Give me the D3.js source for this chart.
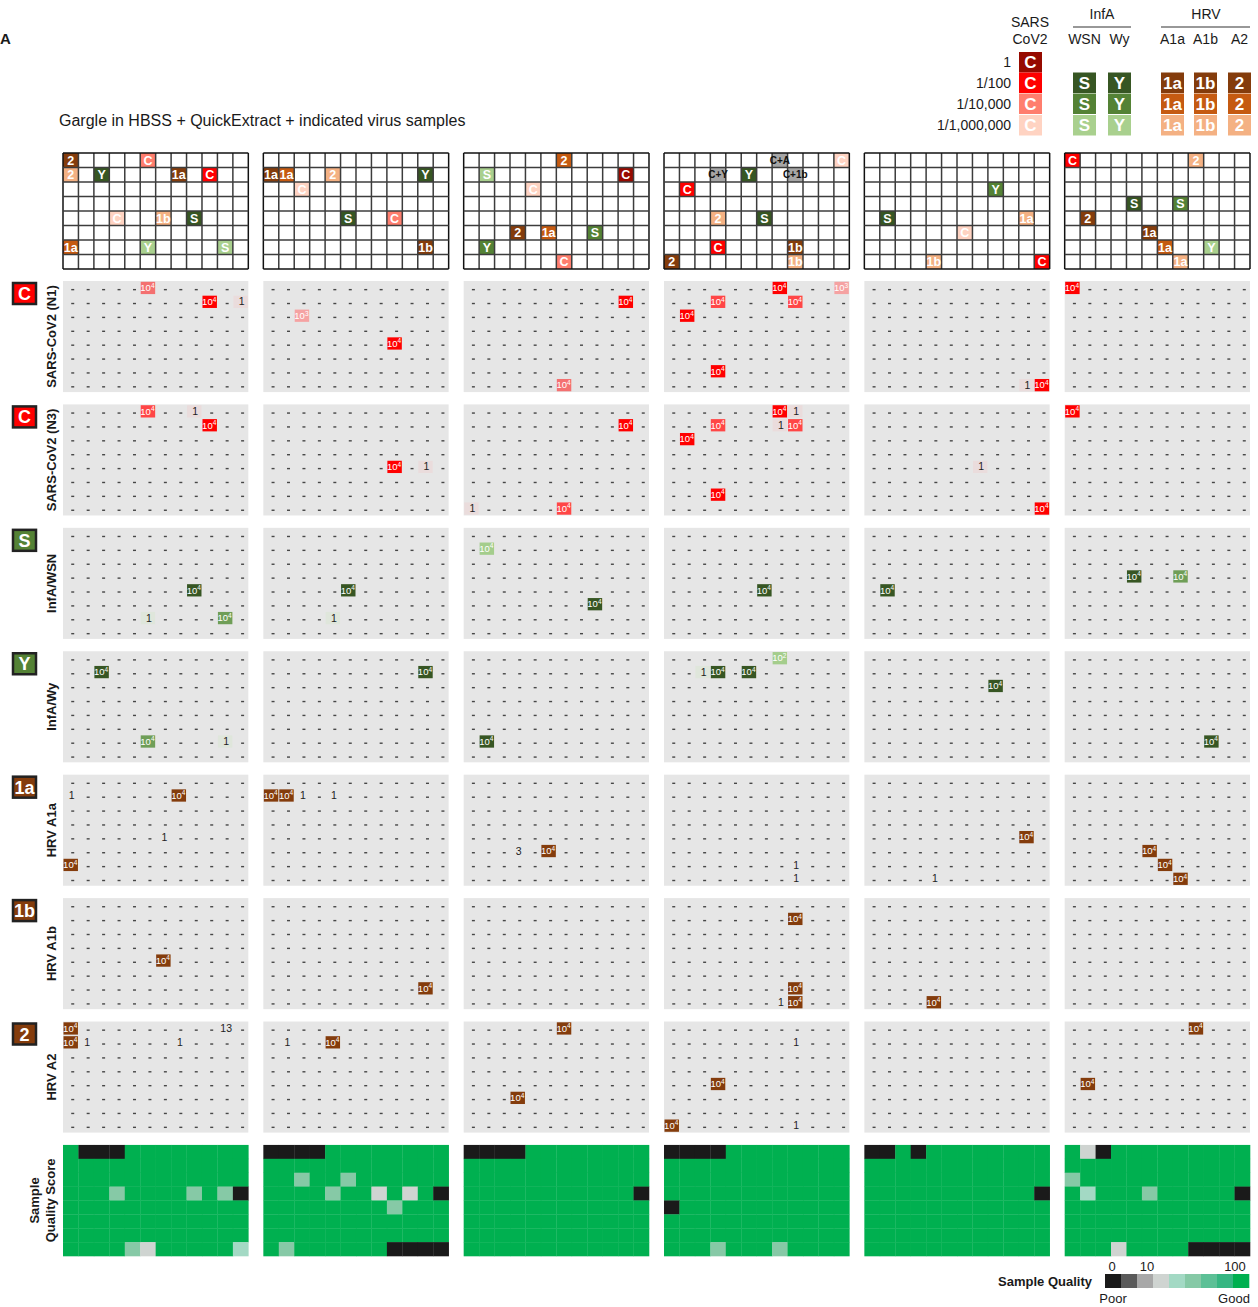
<!DOCTYPE html>
<html><head><meta charset="utf-8">
<script src="https://cdn.jsdelivr.net/npm/d3@7"></script>
<style>body{margin:0;background:#fff;} svg{display:block;font-family:"Liberation Sans",Arial,sans-serif;}</style>
</head><body><svg id="c" width="1258" height="1307"></svg>
<script>
// ---------------- DATA ----------------
const plateIds = [1, 2, 3, 4, 5, 6];
const wellRows = ["A", "B", "C", "D", "E", "F", "G", "H"];
const wellCols = [1, 2, 3, 4, 5, 6, 7, 8, 9, 10, 11, 12];
const dilutionLabels = ["1", "1/100", "1/10,000", "1/1,000,000"];
const titleText = "Gargle in HBSS + QuickExtract + indicated virus samples";

// legend columns
const legendVirus = ["C", "S", "Y", "1a", "1b", "2"];
const legendSub = ["", "WSN", "Wy", "A1a", "A1b", "A2"];
const legendDilutions = [[0, 1, 2, 3], [1, 2, 3], [1, 2, 3], [1, 2, 3], [1, 2, 3], [1, 2, 3]];
const virusFamily = { "C": "sars", "S": "infa", "Y": "infa", "1a": "hrv", "1b": "hrv", "2": "hrv" };

// plate layout: [plate, row, col, label, dilution index] (-1 = mixture)
const layoutWells = [
  [1,0,0,"2",1],[1,0,5,"C",2],[1,1,0,"2",3],[1,1,2,"Y",1],[1,1,7,"1a",1],[1,1,9,"C",1],[1,4,3,"C",3],[1,4,6,"1b",3],[1,4,8,"S",1],[1,6,0,"1a",2],[1,6,5,"Y",3],[1,6,10,"S",3],
  [2,1,0,"1a",1],[2,1,1,"1a",2],[2,1,4,"2",3],[2,1,10,"Y",1],[2,2,2,"C",3],[2,4,5,"S",1],[2,4,8,"C",2],[2,6,10,"1b",1],
  [3,0,6,"2",2],[3,1,1,"S",3],[3,1,10,"C",0],[3,2,4,"C",3],[3,5,3,"2",1],[3,5,5,"1a",2],[3,5,8,"S",2],[3,6,1,"Y",2],[3,7,6,"C",2],
  [4,0,7,"C+A",-1],[4,0,11,"C",3],[4,1,3,"C+Y",-1],[4,1,5,"Y",1],[4,1,8,"C+1b",-1],[4,2,1,"C",1],[4,4,3,"2",3],[4,4,6,"S",1],[4,6,3,"C",1],[4,6,8,"1b",1],[4,7,0,"2",1],[4,7,8,"1b",3],
  [5,2,8,"Y",2],[5,4,1,"S",1],[5,4,10,"1a",3],[5,5,6,"C",3],[5,7,4,"1b",3],[5,7,11,"C",1],
  [6,0,0,"C",1],[6,0,8,"2",3],[6,3,4,"S",1],[6,3,7,"S",2],[6,4,1,"2",1],[6,5,5,"1a",1],[6,6,6,"1a",2],[6,6,9,"Y",3],[6,7,7,"1a",3]
];

// assay results: [plate, row, col, value, intensity level] (-1 = weak count)
const assayN1 = [
  [1,0,5,"10^4",2],[1,1,9,"10^4",0],[1,1,11,"1",-1],
  [2,2,2,"10^3",3],[2,4,8,"10^4",0],
  [3,1,10,"10^4",0],[3,7,6,"10^4",2],
  [4,0,7,"10^4",0],[4,0,11,"10^3",3],[4,1,3,"10^4",1],[4,1,8,"10^4",1],[4,2,1,"10^4",0],[4,6,3,"10^4",0],
  [5,7,10,"1",-1],[5,7,11,"10^4",0],
  [6,0,0,"10^4",0]
];
const assayN3 = [
  [1,0,5,"10^4",1],[1,0,8,"1",-1],[1,1,9,"10^4",0],
  [2,4,8,"10^4",0],[2,4,10,"1",-1],
  [3,1,10,"10^4",0],[3,7,0,"1",-1],[3,7,6,"10^4",1],
  [4,0,7,"10^4",0],[4,0,8,"1",-1],[4,1,3,"10^4",1],[4,1,7,"1",-1],[4,1,8,"10^4",1],[4,2,1,"10^4",0],[4,6,3,"10^4",0],
  [5,4,7,"1",-1],[5,7,11,"10^4",0],
  [6,0,0,"10^4",0]
];
const assayWSN = [
  [1,4,8,"10^4",0],[1,6,5,"1",-1],[1,6,10,"10^4",2],
  [2,4,5,"10^4",0],[2,6,4,"1",-1],
  [3,1,1,"10^4",3],[3,5,8,"10^4",0],
  [4,4,6,"10^4",0],
  [5,4,1,"10^4",0],
  [6,3,4,"10^4",0],[6,3,7,"10^4",2]
];
const assayWy = [
  [1,1,2,"10^4",0],[1,6,5,"10^4",2],[1,6,10,"1",-1],
  [2,1,10,"10^4",0],
  [3,6,1,"10^4",0],
  [4,0,7,"10^2",3],[4,1,2,"1",-1],[4,1,3,"10^4",0],[4,1,5,"10^4",0],
  [5,2,8,"10^4",0],
  [6,6,9,"10^4",0]
];
const assayA1a = [
  [1,1,0,"1",-1],[1,1,7,"10^4",0],[1,4,6,"1",-1],[1,6,0,"10^4",0],
  [2,1,0,"10^4",0],[2,1,1,"10^4",0],[2,1,2,"1",-1],[2,1,4,"1",-1],
  [3,5,3,"3",-1],[3,5,5,"10^4",0],
  [4,6,8,"1",-1],[4,7,8,"1",-1],
  [5,4,10,"10^4",0],[5,7,4,"1",-1],
  [6,5,5,"10^4",0],[6,6,6,"10^4",0],[6,7,7,"10^4",0]
];
const assayA1b = [
  [1,4,6,"10^4",0],
  [2,6,10,"10^4",0],
  [4,1,8,"10^4",0],[4,6,8,"10^4",0],[4,7,7,"1",-1],[4,7,8,"10^4",0],
  [5,7,4,"10^4",0]
];
const assayA2 = [
  [1,0,0,"10^4",0],[1,0,10,"13",-1],[1,1,0,"10^4",0],[1,1,1,"1",-1],[1,1,7,"1",-1],
  [2,1,1,"1",-1],[2,1,4,"10^4",0],
  [3,0,6,"10^4",0],[3,5,3,"10^4",0],
  [4,1,8,"1",-1],[4,4,3,"10^4",0],[4,7,0,"10^4",0],[4,7,8,"1",-1],
  [6,0,8,"10^4",0],[6,4,1,"10^4",0]
];
const assayKeys = ["C", "C", "S", "Y", "1a", "1b", "2"];
const assayNames = ["SARS-CoV2 (N1)", "SARS-CoV2 (N3)", "InfA/WSN", "InfA/Wy", "HRV A1a", "HRV A1b", "HRV A2"];
const assayData = [assayN1, assayN3, assayWSN, assayWy, assayA1a, assayA1b, assayA2];

// sample quality score (0-100); wells not listed scored 100
const qualityDefault = 100;
const qualityLow = [
  [1,0,1,0],[1,0,2,0],[1,0,3,0],[1,3,3,40],[1,3,8,40],[1,3,10,40],[1,3,11,0],[1,7,4,40],[1,7,5,15],[1,7,11,30],
  [2,0,0,0],[2,0,1,0],[2,0,2,0],[2,0,3,0],[2,2,2,40],[2,2,5,40],[2,3,4,40],[2,3,7,15],[2,3,9,15],[2,3,11,0],[2,4,8,40],[2,7,1,40],[2,7,8,0],[2,7,9,0],[2,7,10,0],[2,7,11,0],
  [3,0,0,0],[3,0,1,0],[3,0,2,0],[3,0,3,0],[3,3,11,0],
  [4,0,0,0],[4,0,1,0],[4,0,2,0],[4,0,3,0],[4,4,0,0],[4,7,3,40],[4,7,7,40],
  [5,0,0,0],[5,0,1,0],[5,0,3,0],[5,3,11,0],
  [6,0,1,15],[6,0,2,0],[6,2,0,40],[6,3,1,30],[6,3,5,40],[6,3,11,0],[6,7,3,15],[6,7,8,0],[6,7,9,0],[6,7,10,0],[6,7,11,0]
];
const qualityLegendScores = [0, 2, 7, 15, 30, 45, 60, 75, 100];
const qualityTickLabels = ["0", "10", "100"];

// ---------------- DRAWING ----------------
const svg = d3.select("#c");
const FONT_COLOR = "#1a1a1a";

const dilutionColor = {
  sars: d3.scaleOrdinal().domain([0,1,2,3]).range(["#960A00", "#FF0000", "#FF7E6E", "#FFD3C2"]),
  infa: d3.scaleOrdinal().domain([1,2,3]).range(["#375623", "#548235", "#A9D08E"]),
  hrv:  d3.scaleOrdinal().domain([1,2,3]).range(["#843C0C", "#C55A11", "#F4B183"])
};
const assayColor = {
  sars: d3.scaleOrdinal().domain([0,1,2,3]).range(["#FF0000", "#FF4646", "#F47070", "#F5A2A2"]),
  infa: d3.scaleOrdinal().domain([0,1,2,3]).range(["#375623", "#4A7A30", "#6F9E57", "#A4CD8C"]),
  hrv:  d3.scaleOrdinal().domain([0,1,2,3]).range(["#843C0C", "#A04A14", "#C55A11", "#F4B183"])
};
const weakBg = { sars: "#EADCDC", infa: "#DFE6DB", hrv: "none" };
const badgeColor = { sars: "#FF0000", infa: "#548235", hrv: "#843C0C" };

const plateX = d3.scaleBand().domain(plateIds).range([63, 1250]).paddingInner(0.075);
const colX = d3.scaleBand().domain(d3.range(wellCols.length)).range([0, plateX.bandwidth()]);
const layoutY = d3.scaleBand().domain(d3.range(wellRows.length)).range([153, 269]);
const panelY = d3.scaleBand().domain(d3.range(8)).range([281, 1256]).paddingInner(0.1);
const rowY = d3.scaleBand().domain(d3.range(wellRows.length)).range([0, panelY.bandwidth()]);

const qColors = ["#1a1a1a", "#5a5a5a", "#a8a8a8", "#cfd4d1", "#a3d9c4", "#86c9a6", "#5cc096", "#36b682", "#12b066", "#00b050"];
const qScale = d3.scaleThreshold().domain([1, 5, 10, 20, 35, 50, 65, 80, 95]).range(qColors);

// panel letter
svg.append("text").attr("x", 0).attr("y", 44).attr("font-size", 15).attr("font-weight", "bold").attr("fill", FONT_COLOR).text("A");

// Title
svg.append("text").attr("x", 59).attr("y", 126).attr("font-size", 16).attr("fill", FONT_COLOR).text(titleText);

// ---------- top-right legend ----------
const legX = d3.scaleOrdinal().domain(legendVirus).range([1019, 1073, 1108, 1161, 1194, 1228]);
const legW = 23;
const legRowY = d3.scaleOrdinal().domain([0,1,2,3]).range([52, 72.5, 93.5, 115]);
const legH = 20.5;
const leg = svg.append("g");
leg.append("text").attr("x", 1030).attr("y", 27).attr("text-anchor", "middle").attr("font-size", 14).attr("fill", FONT_COLOR).text("SARS");
leg.append("text").attr("x", 1030).attr("y", 44).attr("text-anchor", "middle").attr("font-size", 14).attr("fill", FONT_COLOR).text("CoV2");
leg.append("text").attr("x", 1102).attr("y", 19).attr("text-anchor", "middle").attr("font-size", 14).attr("fill", FONT_COLOR).text("InfA");
leg.append("line").attr("x1", 1073).attr("x2", 1131).attr("y1", 27).attr("y2", 27).attr("stroke", "#333").attr("stroke-width", 1.2);
leg.append("text").attr("x", 1206).attr("y", 19).attr("text-anchor", "middle").attr("font-size", 14).attr("fill", FONT_COLOR).text("HRV");
leg.append("line").attr("x1", 1161).attr("x2", 1250).attr("y1", 27).attr("y2", 27).attr("stroke", "#333").attr("stroke-width", 1.2);
legendVirus.forEach((v, i) => {
  if (legendSub[i]) {
    leg.append("text").attr("x", legX(v) + legW / 2).attr("y", 44).attr("text-anchor", "middle")
      .attr("font-size", 14).attr("fill", FONT_COLOR).text(legendSub[i]);
  }
  legendDilutions[i].forEach(d => {
    const fam = virusFamily[v];
    leg.append("rect").attr("x", legX(v)).attr("y", legRowY(d)).attr("width", legW).attr("height", legH)
      .attr("fill", dilutionColor[fam](d));
    leg.append("text").attr("x", legX(v) + legW / 2).attr("y", legRowY(d) + legH / 2 + 6)
      .attr("text-anchor", "middle").attr("font-size", 17).attr("font-weight", "bold").attr("fill", "#fff").text(v);
  });
});
dilutionLabels.forEach((lab, d) => {
  leg.append("text").attr("x", 1011).attr("y", legRowY(d) + legH / 2 + 5).attr("text-anchor", "end")
    .attr("font-size", 14).attr("fill", FONT_COLOR).text(lab);
});

// ---------- plate layouts ----------
plateIds.forEach(p => {
  const g = svg.append("g").attr("transform", `translate(${plateX(p)},0)`);
  g.append("rect").attr("x", 0).attr("y", layoutY.range()[0]).attr("width", plateX.bandwidth())
    .attr("height", layoutY.range()[1] - layoutY.range()[0]).attr("fill", "#fff");
  const wells = layoutWells.filter(w => w[0] === p);
  wells.forEach(([, r, c, lab, d]) => {
    const fill = d < 0 ? "#A6A6A6" : dilutionColor[virusFamily[lab]](d);
    g.append("rect").attr("x", colX(c)).attr("y", layoutY(r)).attr("width", colX.bandwidth()).attr("height", layoutY.bandwidth())
      .attr("fill", fill);
  });
  d3.range(wellCols.length + 1).forEach(i => {
    const x = i * colX.step();
    g.append("line").attr("x1", x).attr("x2", x).attr("y1", layoutY.range()[0]).attr("y2", layoutY.range()[1])
      .attr("stroke", i === 0 || i === wellCols.length ? "#111" : "#3c3c3c").attr("stroke-width", 1.5);
  });
  d3.range(wellRows.length + 1).forEach(i => {
    const y = layoutY.range()[0] + i * layoutY.step();
    g.append("line").attr("x1", 0).attr("x2", plateX.bandwidth()).attr("y1", y).attr("y2", y)
      .attr("stroke", i === 0 || i === wellRows.length ? "#111" : "#3c3c3c").attr("stroke-width", 1.5);
  });
  wells.forEach(([, r, c, lab, d]) => {
    const mix = d < 0;
    g.append("text").attr("x", colX(c) + colX.bandwidth() / 2).attr("y", layoutY(r) + layoutY.bandwidth() / 2 + (mix ? 3.5 : 4.5))
      .attr("text-anchor", "middle").attr("font-size", mix ? 10 : 12.5).attr("font-weight", "bold")
      .attr("fill", mix ? "#111" : "#fff").text(lab);
  });
});

// ---------- assay panels ----------
function drawValue(g, x, y, w, h, val, fam, level) {
  if (level >= 0) {
    g.append("rect").attr("x", x + 0.5).attr("y", y + 0.8).attr("width", w - 1).attr("height", h - 1.6)
      .attr("fill", assayColor[fam](level));
    const m = val.match(/^10\^(\d+)$/);
    const t = g.append("text").attr("x", x + w / 2 - 0.5).attr("y", y + h / 2 + 3.3).attr("text-anchor", "middle")
      .attr("font-size", 9.5).attr("fill", "#fff");
    t.append("tspan").text("10");
    t.append("tspan").attr("font-size", 6.5).attr("dy", -3.5).text(m ? m[1] : "");
  } else {
    if (weakBg[fam] !== "none") {
      g.append("rect").attr("x", x + 0.5).attr("y", y + 0.8).attr("width", w - 1).attr("height", h - 1.6)
        .attr("fill", weakBg[fam]);
    }
    g.append("text").attr("x", x + w / 2 + 1).attr("y", y + h / 2 + 3.6).attr("text-anchor", "middle")
      .attr("font-size", 10.5).attr("fill", "#222").text(val);
  }
}

assayData.forEach((data, k) => {
  const fam = virusFamily[assayKeys[k]];
  const top = panelY(k);
  svg.append("rect").attr("x", 13).attr("y", top + 2).attr("width", 23).attr("height", 21)
    .attr("fill", badgeColor[fam]).attr("stroke", "#222").attr("stroke-width", 2.5);
  svg.append("text").attr("x", 24.5).attr("y", top + 19).attr("text-anchor", "middle").attr("font-size", 18)
    .attr("font-weight", "bold").attr("fill", "#fff").text(assayKeys[k]);
  svg.append("text").attr("transform", `translate(56,${top + panelY.bandwidth() / 2}) rotate(-90)`)
    .attr("text-anchor", "middle").attr("font-size", 13).attr("font-weight", "bold").attr("fill", FONT_COLOR)
    .text(assayNames[k]);

  plateIds.forEach(p => {
    const g = svg.append("g").attr("transform", `translate(${plateX(p)},${top})`);
    g.append("rect").attr("x", 0).attr("y", 0).attr("width", plateX.bandwidth()).attr("height", panelY.bandwidth())
      .attr("fill", "#E6E6E6");
    const vals = data.filter(d => d[0] === p);
    const key = new Map(vals.map(d => [d[1] + "_" + d[2], d]));
    d3.range(wellRows.length).forEach(r => {
      d3.range(wellCols.length).forEach(c => {
        const x = colX(c), y = rowY(r);
        const e = key.get(r + "_" + c);
        if (e) {
          drawValue(g, x, y, colX.bandwidth(), rowY.bandwidth(), e[3], fam, e[4]);
        } else {
          g.append("rect").attr("x", x + colX.bandwidth() / 2 + 0.5).attr("y", y + rowY.bandwidth() / 2 + 1)
            .attr("width", 3).attr("height", 1.4).attr("fill", "#474747");
        }
      });
    });
  });
});

// ---------- quality panel ----------
const qTop = panelY(7);
svg.append("text").attr("transform", `translate(39,${qTop + panelY.bandwidth() / 2}) rotate(-90)`)
  .attr("text-anchor", "middle").attr("font-size", 13).attr("font-weight", "bold").attr("fill", FONT_COLOR).text("Sample");
svg.append("text").attr("transform", `translate(55,${qTop + panelY.bandwidth() / 2}) rotate(-90)`)
  .attr("text-anchor", "middle").attr("font-size", 13).attr("font-weight", "bold").attr("fill", FONT_COLOR).text("Quality Score");

plateIds.forEach(p => {
  const g = svg.append("g").attr("transform", `translate(${plateX(p)},${qTop})`);
  const low = new Map(qualityLow.filter(d => d[0] === p).map(d => [d[1] + "_" + d[2], d[3]]));
  d3.range(wellRows.length).forEach(r => {
    d3.range(wellCols.length).forEach(c => {
      const s = low.has(r + "_" + c) ? low.get(r + "_" + c) : qualityDefault;
      g.append("rect").attr("x", colX(c)).attr("y", rowY(r)).attr("width", colX.bandwidth() + 0.3)
        .attr("height", rowY.bandwidth() + 0.3).attr("fill", qScale(s));
    });
  });
});

// quality legend
const qlx = d3.scaleBand().domain(d3.range(qualityLegendScores.length)).range([1105, 1249]);
svg.append("text").attr("x", 1092).attr("y", 1286).attr("text-anchor", "end").attr("font-size", 13)
  .attr("font-weight", "bold").attr("fill", FONT_COLOR).text("Sample Quality");
qualityLegendScores.forEach((s, i) => {
  svg.append("rect").attr("x", qlx(i)).attr("y", 1274).attr("width", qlx.bandwidth() + 0.3).attr("height", 14)
    .attr("fill", qScale(s));
});
const tickX = d3.scaleOrdinal().domain(qualityTickLabels).range([1112, 1147, 1235]);
qualityTickLabels.forEach(t => {
  svg.append("text").attr("x", tickX(t)).attr("y", 1271).attr("text-anchor", "middle").attr("font-size", 13)
    .attr("fill", FONT_COLOR).text(t);
});
svg.append("text").attr("x", 1113).attr("y", 1303).attr("text-anchor", "middle").attr("font-size", 13).attr("fill", FONT_COLOR).text("Poor");
svg.append("text").attr("x", 1234).attr("y", 1303).attr("text-anchor", "middle").attr("font-size", 13).attr("fill", FONT_COLOR).text("Good");
</script></body></html>
